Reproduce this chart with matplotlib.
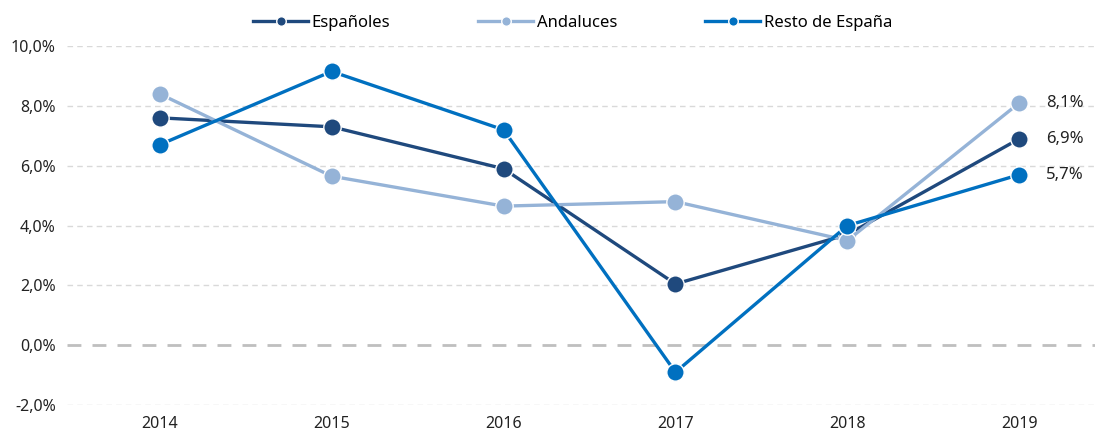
import matplotlib
matplotlib.use('Agg')
import matplotlib.pyplot as plt
import numpy as np

years = ['2014', '2015', '2016', '2017', '2018', '2019']
espanoles = [7.6, 7.3, 5.9, 2.05, 3.7, 6.9]
andaluces = [8.4, 5.65, 4.65, 4.8, 3.5, 8.1]
resto = [6.7, 9.15, 7.2, -0.9, 4.0, 5.7]

series = [('Españoles', espanoles, '#1F497D'),
          ('Andaluces', andaluces, '#95B3D7'),
          ('Resto de España', resto, '#0070C0')]

plt.rcParams['font.family'] = ['Noto Sans', 'DejaVu Sans']

fig = plt.figure(figsize=(10.95, 4.38), dpi=100)
ax = fig.add_axes([0.061, 0.075, 0.939, 0.82])

x = np.arange(len(years))
for name, vals, col in series:
    ax.plot(x, vals, color=col, lw=2.4, marker='o', ms=12.5,
            mfc=col, mec='white', mew=1.0, label=name, clip_on=False, zorder=3)

# etiquetas del ultimo año
for name, vals, col in series:
    ax.annotate(f'{vals[-1]:.1f}%'.replace('.', ','), (x[-1], vals[-1]),
                xytext=(19, 0), textcoords='offset points', va='center',
                ha='left', fontsize=12, color='#222222')

ax.set_ylim(-2, 10)
ax.set_xlim(-0.54, 5.44)
yt = np.arange(-2, 10.1, 2)
ax.set_yticks(yt)
ax.set_yticklabels([f'{v:.1f}%'.replace('.', ',') for v in yt])
ax.set_xticks(x)
ax.set_xticklabels(years)
ax.tick_params(length=0, labelsize=11.5, colors='#222222')
ax.tick_params(axis='y', pad=8)
ax.tick_params(axis='x', pad=8)

for v in yt:
    if v == 0:
        ax.axhline(v, color='#BFBFBF', lw=2, ls=(0, (5, 4)), zorder=1)
    else:
        ax.axhline(v, color='#D9D9D9', lw=1, ls=(0, (4, 3)), zorder=1)

for s in ax.spines.values():
    s.set_visible(False)

handles, labels = ax.get_legend_handles_labels()
leg = fig.legend(handles, labels, loc='center', bbox_to_anchor=(0.523, 0.948),
                 ncol=3, frameon=False, columnspacing=5.3,
                 handlelength=3.3, handletextpad=0.2, markerscale=0.55,
                 prop={'size': 12})

fig.savefig('out.png', dpi=100)
